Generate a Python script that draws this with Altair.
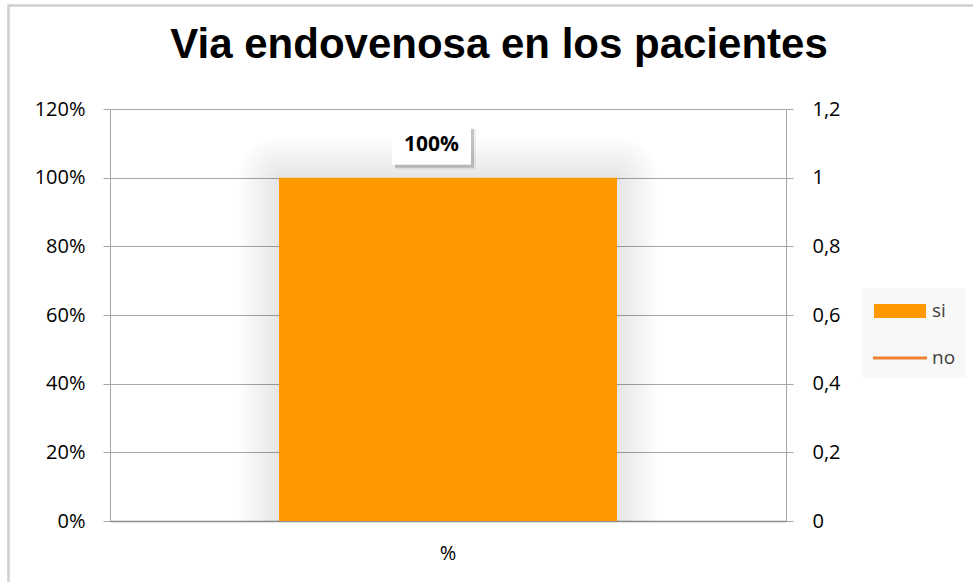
import altair as alt
import pandas as pd

# ---- data ----
categories = ["%"]
si_values = [1.0]
no_values = [0.0]
series = ["si", "no"]
label_texts = ["100%"]
left_ticks = [0, 0.2, 0.4, 0.6, 0.8, 1.0, 1.2]
right_ticks = [0, 0.2, 0.4, 0.6, 0.8, 1.0, 1.2]

W, H = 676, 412
ORANGE = "#FF9900"
LINE = "#EF8136"
FONT = "Open Sans"
GRID = "#a6a6a6"

bar_df = pd.DataFrame({"cat": categories, "value": si_values, "label": label_texts})
no_df = pd.DataFrame({"cat": categories, "value": no_values})
legend_df = pd.DataFrame({"cat": categories * 2,
                          "value": [si_values[0], no_values[0]],
                          "serie": series})
deco_df = pd.DataFrame({"k": [0]})

x_enc = alt.X(
    "cat:N",
    scale=alt.Scale(domain=categories, paddingInner=0.5, paddingOuter=0.25),
    axis=alt.Axis(title=None, labelAngle=0, ticks=False, domainColor="#8c8c8c",
                  domainWidth=1.5, labelPadding=22, labelFontSize=20,
                  labelFont=FONT, labelColor="#000000"),
)
y_enc = alt.Y(
    "value:Q",
    scale=alt.Scale(domain=[0, 1.2], nice=False, zero=True),
    axis=alt.Axis(title=None, values=left_ticks, format=".0%", grid=True,
                  gridColor=GRID, domainColor=GRID, tickColor=GRID, tickSize=7,
                  labelPadding=18, labelFontSize=20, labelFont=FONT,
                  labelColor="#000000"),
)

# chart border (decoration)
border = alt.Chart(deco_df).mark_rect(fill=None, stroke="#d0d0d0", strokeWidth=2.5).encode(
    x=alt.value(-101.5), x2=alt.value(900), y=alt.value(-103.5), y2=alt.value(480)
)

# soft glow around the bar
shadows = []
for sw in [80, 70, 60, 50, 40, 30, 20, 10]:
    shadows.append(
        alt.Chart(bar_df).mark_bar(fillOpacity=0, stroke="#000000", strokeOpacity=0.012,
                                   strokeWidth=sw, strokeJoin="round", clip=True)
        .encode(x=x_enc, y=y_enc)
    )

bar = alt.Chart(bar_df).mark_bar(color=ORANGE).encode(x=x_enc, y=y_enc)

BOX = "M-1,-0.4937H1V0.4937H-1Z"
box_shadow1 = alt.Chart(bar_df).mark_point(shape=BOX, size=6561, filled=True, fill="#000000",
                                           opacity=0.06, strokeWidth=0,
                                           xOffset=-12.5, yOffset=-28.5).encode(x=x_enc, y=y_enc)
box_shadow2 = alt.Chart(bar_df).mark_point(shape=BOX, size=6241, filled=True, fill="#000000",
                                           opacity=0.18, strokeWidth=0,
                                           xOffset=-13.5, yOffset=-29.5).encode(x=x_enc, y=y_enc)
box = alt.Chart(bar_df).mark_point(shape=BOX, size=6241, filled=True, fill="#ffffff",
                                   opacity=1, strokeWidth=0,
                                   xOffset=-16.5, yOffset=-32.5).encode(x=x_enc, y=y_enc)
label = alt.Chart(bar_df).mark_text(font=FONT, fontWeight="bold", fontSize=21, color="#000000",
                                    dx=-16.5, dy=-32.5, align="center", baseline="middle").encode(
    x=x_enc, y=y_enc, text="label:N"
)

# legend (invisible points carrying the legend)
SI_PATH = "M-0.846,-0.538H3.154V0.538H-0.846Z"
NO_PATH = "M-0.923,-0.115H3.231V0.115H-0.923Z"
leg = alt.Legend(title=None, orient="none", legendX=752, legendY=179, symbolSize=676,
                 symbolOpacity=1, symbolStrokeWidth=0, labelFont=FONT, labelFontSize=19,
                 labelColor="#404040", labelOffset=34, rowPadding=24, padding=10,
                 fillColor="#f8f8f8")
legend_pts = alt.Chart(legend_df).mark_point(filled=True, opacity=0, size=676, strokeWidth=0).encode(
    x=x_enc, y=y_enc,
    color=alt.Color("serie:N", scale=alt.Scale(domain=series, range=[ORANGE, LINE]), legend=leg),
    shape=alt.Shape("serie:N", scale=alt.Scale(domain=series, range=[SI_PATH, NO_PATH]), legend=leg),
)

left = alt.layer(border, *shadows, bar, box_shadow1, box_shadow2, box, label, legend_pts)

right = alt.Chart(no_df).mark_line(color=LINE, strokeWidth=3).encode(
    x=x_enc,
    y=alt.Y("value:Q", scale=alt.Scale(domain=[0, 1.2], nice=False, zero=True),
            axis=alt.Axis(title=None, orient="right", values=right_ticks,
                          labelExpr="replace(format(datum.value, '~g'), '.', ',')",
                          grid=False, domainColor=GRID, tickColor=GRID, tickSize=7,
                          labelPadding=19, labelFontSize=20, labelFont=FONT,
                          labelColor="#000000")),
)

chart = alt.layer(left, right).resolve_scale(y="independent").properties(
    width=W, height=H,
    autosize="none",
    padding={"left": 110, "top": 109, "right": 187, "bottom": 61},
    background="#ffffff",
    title=alt.TitleParams("Via endovenosa en los pacientes", font="Liberation Sans",
                          fontSize=42, fontWeight="bold", color="#000000",
                          anchor="middle", dx=51, offset=-96, baseline="alphabetic"),
).configure_view(stroke=None)

chart.save("out.html", embed_options={"renderer": "svg", "actions": False})
